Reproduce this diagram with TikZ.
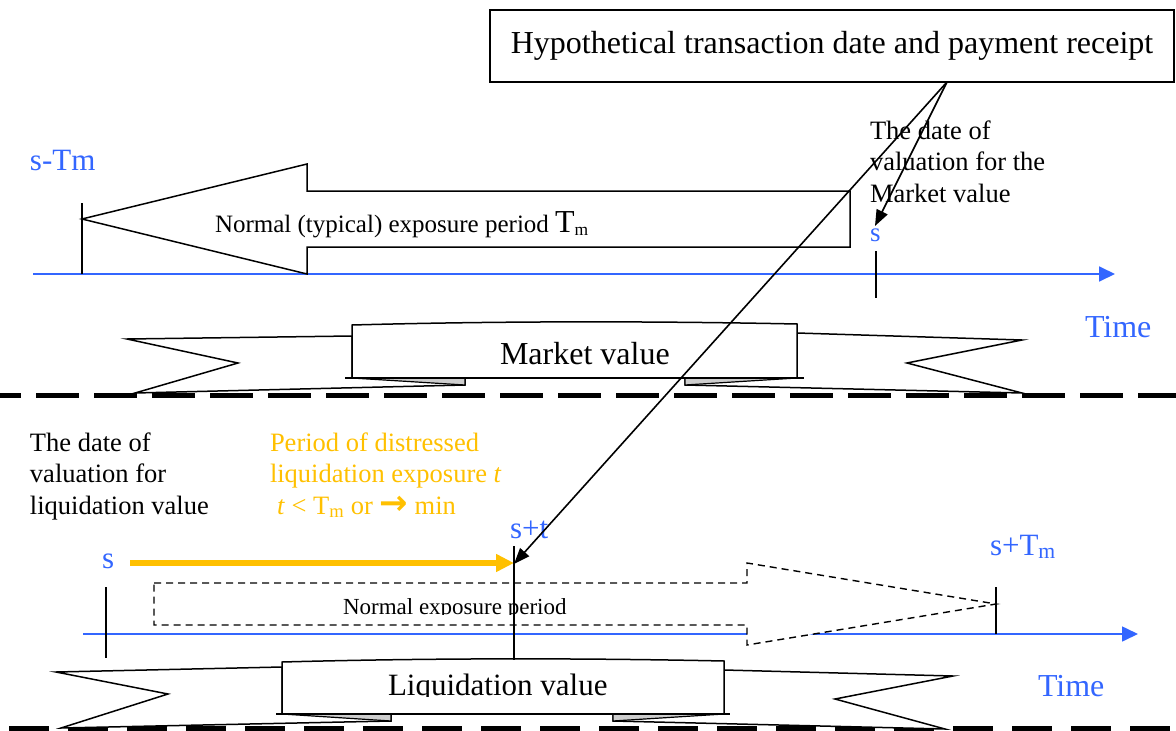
\documentclass[tikz,border=0pt]{standalone}
\usepackage{fontspec}
\setmainfont{Liberation Serif}
\newfontfamily\arrowfont{DejaVu Sans}
\usetikzlibrary{arrows.meta}
\definecolor{tblue}{RGB}{51,102,255}
\definecolor{tgold}{RGB}{255,192,0}
\definecolor{foldgray}{RGB}{205,205,205}
\tikzset{
  every node/.style={inner sep=0pt, outer sep=0pt},
  bodytext/.style={font=\fontsize{26.5}{31.5}\selectfont, anchor=base west, align=left},
  bluelbl/.style={text=tblue, font=\fontsize{31}{36}\selectfont, anchor=base west},
  bigtext/.style={font=\fontsize{32}{38}\selectfont, anchor=base west},
  outline/.style={draw=black, line width=1.5pt, line join=miter},
  timeline/.style={draw=tblue, line width=1.8pt, -{Triangle[length=16pt,width=15pt]}},
  tickline/.style={draw=black, line width=1.5pt},
  sepline/.style={draw=black, line width=5pt},
  ptr/.style={draw=black, line width=1.6pt, -{Triangle[length=16pt,width=12pt]}},
  foldfill/.style={fill=foldgray, draw=black, line width=1.2pt},
}
\begin{document}
\begin{tikzpicture}[x=1pt,y=-1pt]
\useasboundingbox (0,0) rectangle (1176,731);

% ---------- separators ----------
\draw[sepline, dash pattern=on 43pt off 15pt, dash phase=22pt] (0,395) -- (1176,395);
\draw[sepline, dash pattern=on 40pt off 19pt, dash phase=50pt] (0,728.5) -- (1176,728.5);

% ---------- top box ----------
\node[draw, line width=1.5pt, anchor=north west, minimum width=684pt, minimum height=72pt,
      font=\fontsize{32}{38}\selectfont] (hyp) at (490,10) {Hypothetical transaction date and payment receipt};
\coordinate (hypfoot) at (947,82);

% ---------- upper time line ----------
\coordinate (tl1a) at (33,274);
\coordinate (tl1b) at (1115,274);
\draw[timeline] (tl1a) -- (tl1b);
\draw[tickline] (82,203) -- (82,274);
\draw[tickline] (876,251) -- (876,298);

% block arrow (normal exposure period)
\draw[outline, fill=white] (850,191) -- (307,191) -- (307,164) -- (82,219) -- (307,274) -- (307,247) -- (850,247) -- cycle;
\node[anchor=base west, font=\fontsize{25}{30}\selectfont] (typ) at (215,232)
  {Normal (typical) exposure period {\fontsize{32}{38}\selectfont T}\textsubscript{m}};

\node[bluelbl] (sTm) at (30,170) {s-Tm};
\node[bodytext] (mvdate) at (870,202) {The date of\\valuation for the\\Market value};
\node[bluelbl, font=\fontsize{27}{30}\selectfont] (stop) at (870,241) {s};
\node[bluelbl, font=\fontsize{32}{38}\selectfont] (time1) at (1085,337) {Time};

% ---------- Market value ribbon ----------
\draw[outline, fill=white] (352,336) -- (127,339) -- (238,363) -- (135,393) -- (465,385) -- (465,378) -- (352,378) -- cycle;
\draw[outline, fill=white] (797,333) -- (1022,340) -- (907,363) -- (1022,393) -- (685,385) -- (685,378) -- (797,378) -- cycle;
\draw[foldfill] (352,378) -- (465,378) -- (465,385) -- cycle;
\draw[foldfill] (685,378) -- (797,378) -- (685,385) -- cycle;
\draw[outline, fill=white] (352,378) -- (352,325) .. controls (500,321) and (650,321) .. (797,324) -- (797,378) -- cycle;
\draw[outline] (345,378) -- (804,378);
\node[bigtext] (mv) at (500,364) {Market value};

% ---------- lower section ----------
\node[bodytext] (lvdate) at (30,514) {The date of\\valuation for\\liquidation value};
\node[bodytext, text=tgold] (distr) at (270,514)
  {Period of distressed\\liquidation exposure \textit{t}\\\hspace*{7pt}\textit{t} < T\textsubscript{m} or {\arrowfont\bfseries\fontsize{34}{30}\selectfont →} min};
\node[bluelbl] (spt) at (510,538) {s+t};
\node[bluelbl] (slow) at (102,568) {s};
\node[bluelbl] (sTmlow) at (990,555) {s+T\textsubscript{m}};
\node[bluelbl, font=\fontsize{32}{38}\selectfont] (time2) at (1038,696) {Time};

\coordinate (tl2a) at (83,634);
\coordinate (tl2b) at (1138,634);
\draw[timeline, line width=1.6pt] (tl2a) -- (tl2b);

% dashed block arrow
\draw[draw=black, line width=1.4pt, dash pattern=on 7pt off 5pt, fill=white]
  (154,583) -- (747,583) -- (747,563) -- (996,604) -- (747,645) -- (747,625) -- (154,625) -- cycle;
\begin{scope}
  \clip (154,570) rectangle (747,614.5);
  \node[anchor=base west, font=\fontsize{23}{28}\selectfont] (nep) at (343,614) {Normal exposure period};
\end{scope}

\draw[tickline] (106,587) -- (106,658);
\draw[tickline] (996,587) -- (996,634);

% yellow arrow
\coordinate (ya) at (130,563);
\coordinate (yb) at (514,563);
\draw[tgold, line width=6pt, -{Triangle[length=18pt,width=17pt]}] (ya) -- (yb);

% ---------- Liquidation value ribbon ----------
\draw[outline, fill=white] (282,667) -- (56,672) -- (168,694) -- (61,728) -- (391,721) -- (391,714) -- (282,714) -- cycle;
\draw[outline, fill=white] (724,670) -- (953,676) -- (835,699) -- (945,729) -- (613,721) -- (613,714) -- (724,714) -- cycle;
\draw[foldfill] (282,714) -- (391,714) -- (391,721) -- cycle;
\draw[foldfill] (613,714) -- (724,714) -- (613,721) -- cycle;
\draw[outline, fill=white] (282,714) -- (282,662) .. controls (430,658) and (580,658) .. (724,661) -- (724,714) -- cycle;
\draw[outline] (276,714) -- (730,714);
\begin{scope}
  \clip (282,665) rectangle (724,696);
  \node[anchor=base west, font=\fontsize{31}{36}\selectfont] (lv) at (388,695) {Liquidation value};
\end{scope}

% s+t vertical line
\coordinate (sttop) at (514,546);
\coordinate (stbot) at (514,660);
\draw[tickline] (sttop) -- (stbot);

% ---------- pointers ----------
\coordinate (smv) at (875,226);
\coordinate (sptarrow) at (514,564);
\draw[ptr] (hypfoot) -- (smv);
\draw[ptr] (hypfoot) -- (sptarrow);
\end{tikzpicture}
\end{document}
